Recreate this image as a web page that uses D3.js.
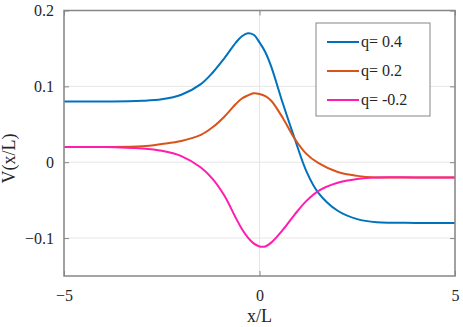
<!DOCTYPE html>
<html>
<head>
<meta charset="utf-8">
<script src="https://cdn.jsdelivr.net/npm/d3@7"></script>
</head>
<body style="margin:0; background:#fff">
<div id="chart"></div>
<script>
const W = 463, H = 327;
const margin = {top: 10.5, right: 8, bottom: 51, left: 64};
const innerWidth = W - margin.left - margin.right,
      innerHeight = H - margin.top - margin.bottom;
const fontName = "'Liberation Serif', 'Times New Roman', serif";

// sampled x/L positions
const xs = [-5, -4, -3, -2.5, -2, -1.5, -1.2, -0.9, -0.6, -0.45, -0.3, -0.15, 0, 0.15, 0.3, 0.6, 0.9, 1.2, 1.5, 2, 2.5, 3, 4, 5];
// q = 0.4
const vBlue = [0.080, 0.080, 0.081, 0.083, 0.089, 0.103, 0.118, 0.137, 0.158, 0.166, 0.170, 0.168, 0.158, 0.145, 0.126, 0.077, 0.031, -0.012, -0.040, -0.064, -0.075, -0.079, -0.080, -0.080];
// q = 0.2
const vOrange = [0.020, 0.020, 0.021, 0.024, 0.028, 0.036, 0.046, 0.060, 0.077, 0.084, 0.088, 0.091, 0.090, 0.087, 0.081, 0.058, 0.031, 0.011, -0.001, -0.013, -0.018, -0.020, -0.020, -0.020];
// q = -0.2
const vPink = [0.020, 0.020, 0.018, 0.015, 0.008, -0.007, -0.022, -0.044, -0.074, -0.088, -0.099, -0.107, -0.111, -0.111, -0.106, -0.089, -0.069, -0.051, -0.038, -0.027, -0.022, -0.020, -0.020, -0.020];

const seriesNames = ["q= 0.4", "q= 0.2", "q= -0.2"];
const seriesColors = ["#0072BD", "#D95319", "#FF1CAE"];
const xTicks = [-5, 0, 5];
const yTicks = [-0.1, 0, 0.1, 0.2];

const series = [vBlue, vOrange, vPink].map((vals, i) => ({
  name: seriesNames[i],
  color: seriesColors[i],
  values: xs.map((x, j) => ({x: x, y: vals[j]}))
}));

const svg = d3.select("#chart").append("svg")
  .attr("width", W)
  .attr("height", H)
  .style("display", "block");
const g = svg.append("g")
  .attr("transform", `translate(${margin.left}, ${margin.top})`);

const x = d3.scaleLinear().domain([-5, 5]).range([0, innerWidth]);
const y = d3.scaleLinear().domain([-0.15, 0.2]).range([innerHeight, 0]);

// grid
g.append("g").selectAll("line").data(yTicks).enter().append("line")
  .attr("x1", 0).attr("x2", innerWidth)
  .attr("y1", d => y(d)).attr("y2", d => y(d))
  .attr("stroke", "#e6e6e6");
g.append("g").selectAll("line").data(xTicks).enter().append("line")
  .attr("y1", 0).attr("y2", innerHeight)
  .attr("x1", d => x(d)).attr("x2", d => x(d))
  .attr("stroke", "#e6e6e6");

// curves
const line = d3.line()
  .x(d => x(d.x))
  .y(d => y(d.y))
  .curve(d3.curveCatmullRom.alpha(0.5));

g.selectAll(".curve").data(series).enter().append("path")
  .attr("class", "curve")
  .attr("d", d => line(d.values))
  .attr("fill", "none")
  .attr("stroke", d => d.color)
  .attr("stroke-width", 2);

// axes (ticks inside, box)
const axisColor = "#868686";
const styleAxis = (sel, keepText) => {
  sel.attr("font-family", null).attr("font-size", null);
  sel.select(".domain").remove();
  sel.selectAll(".tick line").attr("stroke", axisColor);
  if (!keepText) sel.selectAll(".tick text").remove();
};

g.append("g")
  .call(d3.axisLeft(y).tickValues(yTicks).tickSize(-5).tickPadding(10).tickFormat(d => d === 0 ? "0" : d3.format("")(d)))
  .call(styleAxis, true);
g.append("g")
  .attr("transform", `translate(${innerWidth}, 0)`)
  .call(d3.axisRight(y).tickValues(yTicks).tickSize(-5))
  .call(styleAxis, false);
g.append("g")
  .attr("transform", `translate(0, ${innerHeight})`)
  .call(d3.axisBottom(x).tickValues(xTicks).tickSize(-5).tickPadding(14))
  .call(styleAxis, true);
g.append("g")
  .call(d3.axisTop(x).tickValues(xTicks).tickSize(-5))
  .call(styleAxis, false);

g.append("rect")
  .attr("width", innerWidth).attr("height", innerHeight)
  .attr("fill", "none")
  .attr("stroke", axisColor)
  .attr("stroke-width", 1.5);

// axis labels
g.append("text")
  .attr("class", "lbl")
  .attr("x", innerWidth / 2)
  .attr("y", innerHeight + 46)
  .attr("text-anchor", "middle")
  .text("x/L");

svg.append("text")
  .attr("class", "lbl")
  .attr("transform", `translate(15, ${margin.top + y(0.005)}) rotate(-90)`)
  .attr("text-anchor", "middle")
  .text("V(x/L)");

// legend
const legend = svg.append("g").attr("transform", "translate(316, 23)");
legend.append("rect")
  .attr("width", 114).attr("height", 93)
  .attr("fill", "#fff")
  .attr("stroke", axisColor);
const items = legend.selectAll(".item").data(series).enter().append("g")
  .attr("transform", (d, i) => `translate(0, ${19 + i * 29})`);
items.append("line")
  .attr("x1", 11).attr("x2", 43)
  .attr("stroke", d => d.color)
  .attr("stroke-width", 2);
items.append("text")
  .attr("x", 45).attr("y", 5)
  .text(d => d.name);

// text styling, forced inline
svg.selectAll("text")
  .attr("fill", "#262626")
  .style("fill", "#262626")
  .style("font-family", fontName, "important")
  .style("font-size", "16px", "important");
svg.selectAll("text.lbl")
  .style("font-size", "18px", "important");
</script>
</body>
</html>
